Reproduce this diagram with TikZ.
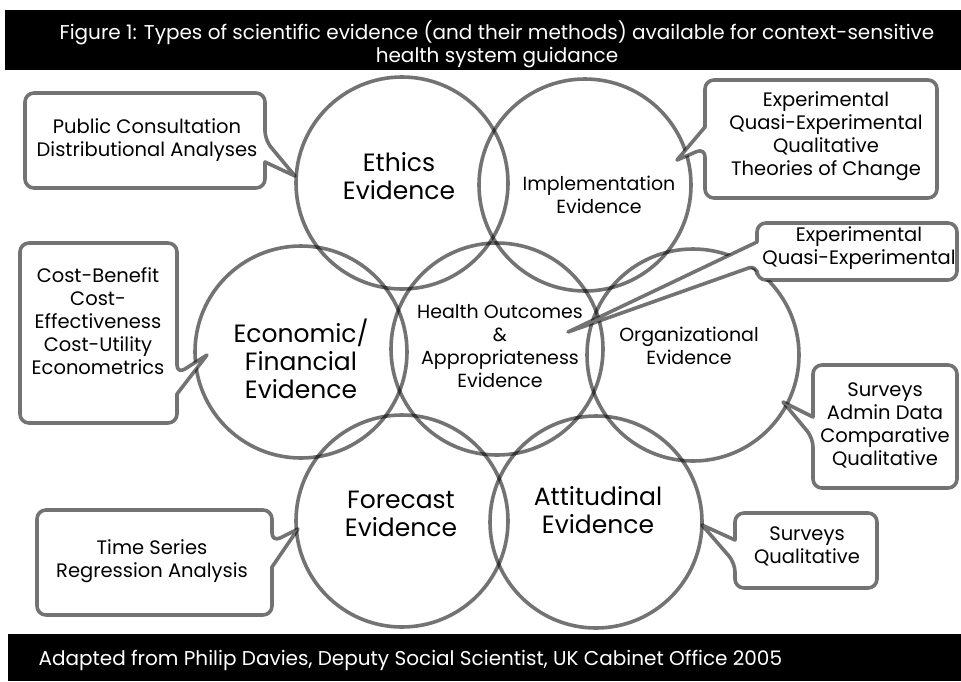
\documentclass[tikz,border=0pt]{standalone}
\usepackage{fontspec}
\setmainfont{Poppins}
\begin{document}
\begin{tikzpicture}[x=1pt,y=-1pt,
  ring/.style={circle, draw=black, draw opacity=0.55, line width=3.6pt,
    minimum size=212pt, inner sep=0pt, outer sep=0pt},
  bigtxt/.style={align=center, font=\fontsize{25}{28}\selectfont},
  midtxt/.style={align=center, font=\fontsize{19}{23}\selectfont},
  notetxt/.style={align=center, font=\fontsize{19.5}{23}\selectfont},
  callout/.style={fill=white, draw=black, draw opacity=0.55, line width=3.6pt,
    rounded corners=9pt, line join=round},
  bartxt/.style={text=white, font=\fontsize{20}{23}\selectfont}]
\useasboundingbox (0,0) rectangle (961,681);

% header and footer bars
\fill[black] (5,10) rectangle (961,70);
\node[bartxt, align=center] (title) at (497,44)
  {Figure 1: Types of scientific evidence (and their methods) available for context-sensitive\\health system guidance};
\fill[black] (8,634) rectangle (961,681);
\node[bartxt, anchor=west] (credit) at (35,660)
  {Adapted from Philip Davies, Deputy Social Scientist, UK Cabinet Office 2005};

% evidence circles
\node[ring] (eth) at (402,183) {};
\node[ring] (imp) at (585,185) {};
\node[ring] (eco) at (301,352) {};
\node[ring] (hea) at (497,349) {};
\node[ring] (org) at (693,355) {};
\node[ring] (for) at (402,521) {};
\node[ring] (att) at (596,522) {};

\node[bigtxt] (ethT) at (399,176) {Ethics\\Evidence};
\node[midtxt] (impT) at (599,195) {Implementation\\Evidence};
\node[bigtxt] (ecoT) at (301,359) {Economic/\\Financial\\Evidence};
\node[midtxt] (heaT) at (500,346) {Health Outcomes\\\&\\Appropriateness\\Evidence};
\node[midtxt] (orgT) at (689,346) {Organizational\\Evidence};
\node[bigtxt] (forT) at (401,514) {Forecast\\Evidence};
\node[bigtxt] (attT) at (598,510) {Attitudinal\\Evidence};

% pointer tips of the method callouts
\coordinate (tEth) at (295,176);
\coordinate (tImp) at (677,160);
\coordinate (tHea) at (568,332);
\coordinate (tEco) at (207,355);
\coordinate (tOrg) at (783,402);
\coordinate (tFor) at (298,529);
\coordinate (tAtt) at (702,525);

% method callouts
\draw[callout] (25,93) -- (265,93) -- (265,140) [sharp corners] -- (tEth) -- (265,162)
  [rounded corners=9pt] -- (265,188) -- (25,188) -- cycle;
\node[notetxt] (ethM) at (147,140) {Public Consultation\\Distributional Analyses};

\draw[callout] (705,80) -- (937,80) -- (937,198) -- (705,198) -- (705,148) [sharp corners]
  -- (tImp) -- (705,127) [rounded corners=9pt] -- cycle;
\node[notetxt] (impM) at (826,136) {Experimental\\Quasi-Experimental\\Qualitative\\Theories of Change};

\draw[callout] (757,223) -- (957,223) -- (957,280) -- (757,280) -- (757,265) [sharp corners]
  -- (tHea) -- (757,242) [rounded corners=9pt] -- cycle;
\node[notetxt] (heaM) at (859,248) {Experimental\\Quasi-Experimental};

\draw[callout] (20,243) -- (177,243) -- (177,374) [sharp corners] -- (tEco) -- (177,394)
  [rounded corners=9pt] -- (177,423) -- (20,423) -- cycle;
\node[notetxt] (ecoM) at (98,321) {Cost-Benefit\\Cost-\\Effectiveness\\Cost-Utility\\Econometrics};

\draw[callout] (813,365) -- (957,365) -- (957,488) -- (813,488) -- (813,438) [sharp corners]
  -- (tOrg) -- (813,417) [rounded corners=9pt] -- cycle;
\node[notetxt] (orgM) at (885,425) {Surveys\\Admin Data\\Comparative\\Qualitative};

\draw[callout] (37,510) -- (272,510) -- (272,542) [sharp corners] -- (tFor) -- (272,567)
  [rounded corners=9pt] -- (272,615) -- (37,615) -- cycle;
\node[notetxt] (forM) at (152,561) {Time Series\\Regression Analysis};

\draw[callout] (735,513) -- (877,513) -- (877,588) -- (735,588) -- (735,563) [sharp corners]
  -- (tAtt) -- (735,540) [rounded corners=9pt] -- cycle;
\node[notetxt] (attM) at (807,546) {Surveys\\Qualitative};
\end{tikzpicture}
\end{document}
